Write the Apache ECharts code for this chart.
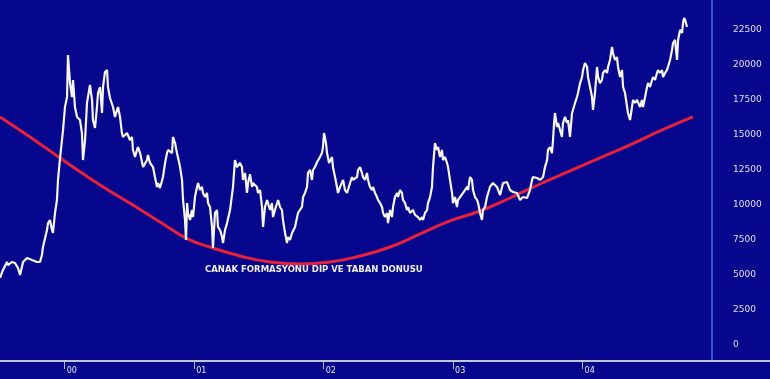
<!DOCTYPE html>
<html>
<head>
<meta charset="utf-8">
<script src="https://cdn.jsdelivr.net/npm/echarts@6/dist/echarts.min.js"></script>
<style>
html,body{margin:0;padding:0;background:#07078e;}
#c{width:770px;height:379px;}
</style>
</head>
<body>
<div id="c"></div>
<script>
// Index price (decimal year, value)
const priceYears = [
1999.500,1999.523,1999.554,1999.562,1999.593,1999.616,1999.639,1999.655,1999.678,1999.709,1999.747,1999.786,1999.809,1999.824,1999.832,1999.863,1999.871,1999.886,1999.902,1999.909,1999.925,1999.940,1999.948,
1999.964,1999.987,2000.002,2000.018,2000.025,2000.041,2000.056,2000.064,2000.079,2000.095,2000.118,2000.133,2000.141,2000.157,2000.172,2000.180,2000.195,2000.211,2000.218,2000.234,2000.249,2000.257,2000.273,2000.288,2000.296,2000.311,2000.327,2000.334,2000.350,2000.373,2000.388,2000.404,2000.412,2000.427,2000.442,2000.450,2000.481,2000.504,2000.520,2000.527,2000.543,2000.558,2000.566,2000.582,2000.597,2000.605,2000.636,2000.643,2000.659,2000.682,2000.697,2000.713,2000.721,2000.736,2000.759,2000.775,2000.790,2000.798,2000.829,2000.836,2000.852,2000.867,2000.891,2000.906,2000.914,2000.929,2000.937,2000.945,2000.952,2000.968,2000.983,2000.991,
2001.006,2001.022,2001.030,2001.045,2001.060,2001.068,2001.084,2001.099,2001.107,2001.122,2001.138,2001.145,2001.161,2001.176,2001.184,2001.200,2001.215,2001.223,2001.238,2001.254,2001.277,2001.300,2001.315,2001.331,2001.354,2001.369,2001.377,2001.393,2001.408,2001.416,2001.431,2001.447,2001.454,2001.485,2001.493,2001.509,2001.524,2001.532,2001.547,2001.563,2001.570,2001.586,2001.601,2001.609,2001.624,2001.648,2001.663,2001.678,2001.686,2001.702,2001.717,2001.725,2001.740,2001.756,2001.763,2001.779,2001.802,2001.833,2001.841,2001.856,2001.872,2001.879,2001.895,2001.910,2001.918,2001.933,2001.949,2001.957,2001.972,2001.987,2001.995,
2002.003,2002.018,2002.026,2002.042,2002.065,2002.072,2002.088,2002.103,2002.111,2002.127,2002.150,2002.165,2002.181,2002.204,2002.219,2002.227,2002.258,2002.266,2002.281,2002.296,2002.304,2002.320,2002.335,2002.343,2002.358,2002.374,2002.381,2002.397,2002.412,2002.420,2002.436,2002.451,2002.459,2002.474,2002.490,2002.497,2002.513,2002.528,2002.536,2002.551,2002.567,2002.575,2002.590,2002.605,2002.613,2002.629,2002.644,2002.652,2002.667,2002.690,2002.706,2002.721,2002.729,2002.745,2002.760,2002.768,2002.783,2002.799,2002.806,2002.822,2002.837,2002.845,2002.860,2002.876,2002.884,2002.899,2002.914,2002.922,2002.938,2002.953,2002.961,2002.976,2002.992,2002.999,
2003.015,2003.030,2003.038,2003.054,2003.077,2003.092,2003.108,2003.115,2003.131,2003.146,2003.154,2003.169,2003.185,2003.193,2003.208,2003.223,2003.231,2003.247,2003.262,2003.285,2003.308,2003.339,2003.363,2003.386,2003.417,2003.440,2003.463,2003.494,2003.517,2003.540,2003.571,2003.594,2003.610,2003.617,2003.648,2003.672,2003.695,2003.710,2003.726,2003.733,2003.749,2003.764,2003.772,2003.780,2003.787,2003.803,2003.811,2003.826,2003.841,2003.849,2003.865,2003.880,2003.888,2003.903,2003.919,2003.926,2003.942,2003.957,2003.965,2003.981,2003.996,
2004.004,2004.019,2004.035,2004.042,2004.058,2004.073,2004.081,2004.096,2004.112,2004.120,2004.135,2004.150,2004.158,2004.174,2004.189,2004.197,2004.212,2004.228,2004.235,2004.251,2004.266,2004.274,2004.290,2004.305,2004.313,2004.328,2004.344,2004.351,2004.367,2004.382,2004.390,2004.405,2004.421,2004.444,2004.459,2004.467,2004.483,2004.498,2004.506,2004.521,2004.537,2004.544,2004.560,2004.575,2004.583,2004.598,2004.614,2004.622,2004.637,2004.652,2004.660,2004.676,2004.691,2004.699,2004.714,2004.730,2004.738,2004.753,2004.769,2004.776,2004.784,2004.792,2004.807
];
const priceValues = [
4790,5360,5930,5710,5930,5860,5500,5000,5930,6210,6070,5930,5930,6430,7000,8210,8710,8930,8210,8000,9430,10360,11790,
13360,15360,17000,17710,20710,18710,17710,18930,17000,16290,16070,15140,13210,14640,17290,17360,18570,17500,16070,15500,17000,18000,18430,16570,18430,19500,19640,18430,17640,17000,16290,16790,17000,16290,15140,14860,15140,14640,14860,13930,13430,13930,14140,13710,13070,12710,13210,13570,13000,12710,12000,11290,11570,11210,12000,13000,13710,13930,13710,14860,14430,13710,12710,11790,10360,8930,7500,10140,9430,8930,9640,9140,
10570,11290,11570,11070,11290,10860,10570,10860,10140,9860,8430,6930,9430,9640,8430,8210,7710,7290,8210,8710,9640,11290,13210,12710,13000,12710,11790,12290,10860,11570,12200,11290,11570,11290,10860,11070,9860,8430,9860,10360,10140,9640,10140,9140,9640,10360,9860,9640,8930,8000,7290,7710,7500,8000,8100,8430,9430,9860,10570,10860,11290,12290,12500,11790,12500,12710,13070,13000,13430,13710,14140,
15140,14430,13710,13000,13430,12710,12000,11290,10860,11290,11790,11070,10860,11570,12000,11790,12000,12500,12710,12290,12000,11790,12290,11790,11290,11070,11290,10860,10570,10360,10140,9860,9430,9140,9430,8710,9640,9140,9860,10570,10860,10570,11070,10860,10360,10140,9640,9860,9430,9640,9290,9430,9140,8930,9140,8930,9430,9640,10140,10570,11290,12710,14430,13930,14140,13430,13930,13210,13430,13000,12710,11790,10860,10140,
10570,9860,10360,10570,10860,11070,11290,11070,12000,11790,11070,10570,10360,10140,9430,8930,9640,9860,10570,11290,11570,11290,10710,11570,11640,11070,10930,10860,10360,10570,10500,11070,11790,12000,11930,11790,12000,12710,13210,13930,14140,13710,14640,15860,16570,15570,15860,15360,14860,15860,16290,15860,16070,14860,16570,16790,17290,17710,18000,18710,19140,
19640,20140,19860,19140,18430,17710,16790,18000,19860,19140,18710,18930,19430,19640,19430,19860,20360,21290,20860,20360,20570,19860,19140,19640,18430,18000,17000,16570,16070,17000,17500,17290,17500,17000,17500,17000,17710,18430,18710,18430,18930,19140,18930,19430,19640,19430,19640,19140,19430,19640,19860,20360,21070,21570,21790,20360,21790,22500,22290,23000,23360,23210,22710
];
// Saucer (cup) trend curve
const trendYears  = [1999.500,1999.732,1999.964,2000.273,2000.527,2000.736,2000.937,2001.145,2001.354,2001.586,2001.818,2002.049,2002.281,2002.513,2002.745,2002.976,2003.208,2003.440,2003.672,2003.903,2004.135,2004.367,2004.598,2004.853];
const trendValues = [16290,14860,13360,11430,10000,8790,7640,6930,6360,5930,5790,5930,6360,7000,7930,8860,9570,10500,11500,12430,13360,14290,15290,16290];
// Axis ticks
const yTickValues = [0,2500,5000,7500,10000,12500,15000,17500,20000,22500];
const xTickYears  = [2000,2001,2002,2003,2004];
const xTickLabels = ['00','01','02','03','04'];
const annotation  = 'CANAK FORMASYONU DIP VE TABAN DONUSU';

const pricePairs = priceYears.map((y,i)=>[y,priceValues[i]]);
const trendPairs = trendYears.map((y,i)=>[y,trendValues[i]]);

const chart = echarts.init(document.getElementById('c'), null, {renderer:'canvas'});
chart.setOption({
  backgroundColor:'#07078e',
  animation:false,
  grid:{left:0,right:58,top:0,bottom:19,containLabel:false},
  xAxis:{
    type:'value', min:1999.5, max:2005.0,
    axisLine:{show:false, onZero:false},
    splitLine:{show:false},
    axisTick:{show:true, customValues:xTickYears, length:9, lineStyle:{color:'#b8b8d0',width:1}},
    axisLabel:{
      customValues:xTickYears,
      formatter:(v)=>xTickLabels[xTickYears.indexOf(Math.round(v))] || '',
      color:'#e6e6f2', fontSize:8, fontFamily:'DejaVu Sans',
      align:'left', margin:7, padding:[0,0,0,2]
    }
  },
  yAxis:{
    type:'value', position:'right', min:-1071, max:24643,
    axisLine:{show:true, onZero:false, lineStyle:{color:'#4d6ee6',width:1.5}},
    splitLine:{show:false},
    axisTick:{show:false},
    axisLabel:{
      customValues:yTickValues,
      formatter:(v)=>String(Math.round(v)),
      color:'#e0e0f0', fontSize:9, fontFamily:'DejaVu Sans',
      align:'left', margin:21
    }
  },
  graphic:[
    {type:'line', shape:{x1:0,y1:361,x2:770,y2:361}, style:{stroke:'#c4c4d8',lineWidth:2}, z:10},
    {type:'text', left:205, top:265, style:{text:annotation, fill:'#f0f0f8', font:'bold 8.5px "DejaVu Sans", sans-serif'}, z:10}
  ],
  series:[
    {
      type:'line', data:trendPairs, smooth:0.5, symbol:'none',
      lineStyle:{color:'#e8203a',width:3}, z:2
    },
    {
      type:'line', data:pricePairs, symbol:'none',
      lineStyle:{color:'#f6f6ee',width:2.2}, z:3
    }
  ]
});
</script>
</body>
</html>
